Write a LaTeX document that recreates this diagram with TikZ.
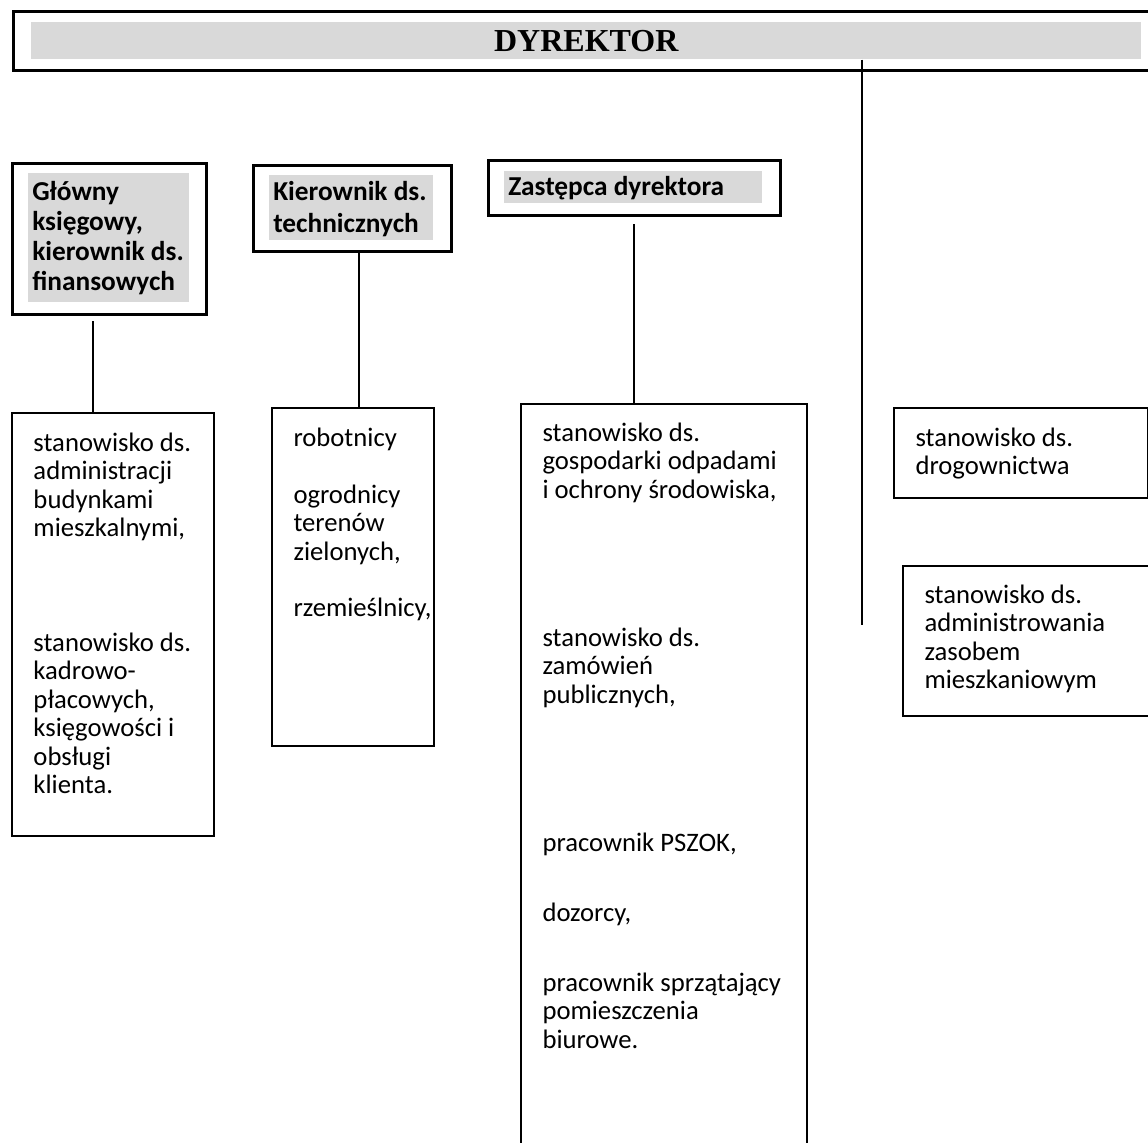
\documentclass[tikz,border=0pt]{standalone}
\usepackage{fontspec}
\setmainfont{Carlito}
\newfontfamily\titlefont{Liberation Serif}
\definecolor{shade}{RGB}{217,217,217}
\newdimen\pxu
\pxu=0.75pt
\hfuzz=200pt \vfuzz=200pt \hbadness=10000 \vbadness=10000

\newcommand{\unittext}[4]{\parbox[c][#2\pxu][t]{#1\pxu}{\raggedright
  \leftskip=21.5\pxu\relax \hyphenpenalty=10000
  \fontsize{20pt}{21.4pt}\selectfont
  \rule{0pt}{#3\pxu}#4\par}}
\newcommand{\headtext}[4]{\parbox[c][#2\pxu][t]{#1\pxu}{\raggedright
  \leftskip=4\pxu\relax \hyphenpenalty=10000
  \fontsize{20.5pt}{22.5pt}\selectfont\bfseries
  \rule{0pt}{#3\pxu}#4\par}}

\begin{document}
\begin{tikzpicture}
  [x=0.75pt,y=-0.75pt,
   headbox/.style={draw,line width=2pt,inner sep=0pt,anchor=north west},
   headshade/.style={fill=shade,inner sep=0pt,anchor=north west},
   unitbox/.style={draw,line width=1.5pt,inner sep=0pt,anchor=north west},
   link/.style={line width=0.9pt}]
  \useasboundingbox (0,0) rectangle (1148,1142);
  \clip (0,0) rectangle (1148,1142);

  \node[headbox,minimum width=1150\pxu,minimum height=59\pxu] (dyr) at (12,10) {};
  \node[headshade,minimum width=1110\pxu,minimum height=37\pxu] (dyrtxt) at (31,22)
    {\titlefont\bfseries\fontsize{24pt}{24pt}\selectfont DYREKTOR};

  \node[headbox,minimum width=194\pxu,minimum height=151\pxu] (gk) at (11,162) {};
  \node[headshade] (gktxt) at (28,173)
    {\headtext{161}{129}{27}{Główny\\księgowy,\\kierownik ds.\\finansowych}};
  \node[headbox,minimum width=198\pxu,minimum height=86\pxu] (kt) at (252,164) {};
  \node[headshade] (kttxt) at (269,175)
    {\headtext{164}{65}{25}{Kierownik ds.\\[2\pxu]technicznych}};
  \node[headbox,minimum width=292\pxu,minimum height=55\pxu] (zd) at (487,159) {};
  \node[headshade] (zdtxt) at (504,171)
    {\headtext{258}{32}{24}{Zastępca dyrektora}};

  \node[unitbox] (b1) at (11,412)
    {\unittext{202}{423}{38}{stanowisko ds.\\administracji\\budynkami\\mieszkalnymi,\\[86\pxu]stanowisko ds.\\kadrowo-\\płacowych,\\księgowości i\\obsługi\\klienta.}};
  \node[unitbox] (b2) at (271,407)
    {\unittext{162}{338}{38}{robotnicy\\[28.5\pxu]ogrodnicy\\terenów\\zielonych,\\[27.5\pxu]rzemieślnicy,}};
  \node[unitbox] (b3) at (520,403)
    {\unittext{286}{760}{37}{stanowisko ds.\\gospodarki odpadami\\i ochrony środowiska,\\[119.5\pxu]stanowisko ds.\\zamówień\\publicznych,\\[119.5\pxu]pracownik PSZOK,\\[41.5\pxu]dozorcy,\\[41.5\pxu]pracownik sprzątający\\pomieszczenia\\biurowe.}};
  \node[unitbox] (b4) at (893,407)
    {\unittext{254}{90}{38}{stanowisko ds.\\drogownictwa}};
  \node[unitbox] (b5) at (902,565)
    {\unittext{260}{150}{37}{stanowisko ds.\\administrowania\\zasobem\\mieszkaniowym}};

  \coordinate (gkfoot) at (93,321);
  \coordinate (ktfoot) at (359,250);
  \coordinate (zdfoot) at (634,224);
  \coordinate (dyrfoot) at (862,625);

\foreach \from/\to in
{gkfoot/b1, ktfoot/b2, zdfoot/b3}
    \draw[link] (\from) -- (\from |- \to.north);
  \draw[link] (dyrfoot |- dyrtxt.south) -- (dyrfoot);

\end{tikzpicture}
\end{document}
